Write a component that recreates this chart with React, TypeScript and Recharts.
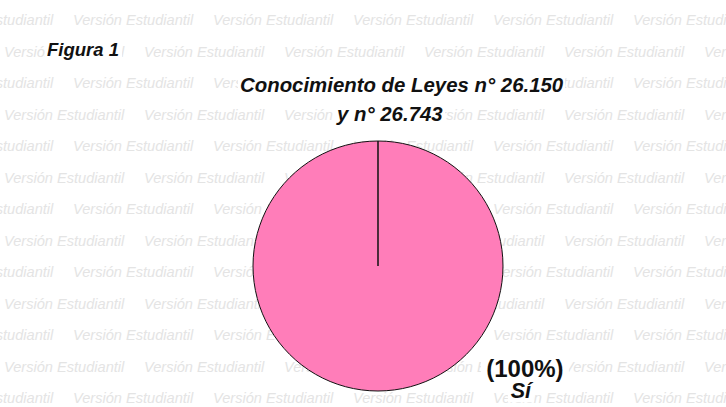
import { PieChart, Pie, Cell } from "recharts";

const WIDTH = 726;
const HEIGHT = 407;

// Data
const categories = ["Sí"];
const values = [100];
const sliceColors = ["#FF7DB9"];

const figureLabel = "Figura 1";
const titleLines = ["Conocimiento de Leyes n° 26.150", "y n° 26.743"];
const watermarkText = "Versión Estudiantil";

const pieData = categories.map((name, i) => ({ name, value: values[i] }));
const total = values.reduce((s, v) => s + v, 0);

const FONT = "'Liberation Sans', Arial, sans-serif";

// Background watermark rows (alternate offsets)
function Watermark() {
  const rows = [];
  for (let r = 0; r < 13; r++) {
    const y = 25 + r * 31.5;
    const x0 = r % 2 === 0 ? -67 : 4;
    for (let c = 0; c < 7; c++) {
      rows.push(
        <text
          key={`${r}-${c}`}
          x={x0 + c * 140}
          y={y}
          fontFamily={FONT}
          fontStyle="italic"
          fontSize={14.6}
          fill="#e4e4e4"
        >
          {watermarkText}
        </text>
      );
    }
  }
  return (
    <svg width={WIDTH} height={HEIGHT} style={{ position: "absolute", left: 0, top: 0 }}>
      {rows}
    </svg>
  );
}

// Text with a white box behind it
function BoxedText({ x, y, w, h, anchor = "start", size, italic, children }: any) {
  const left = anchor === "middle" ? x - w / 2 : x;
  return (
    <g>
      <rect x={left - 2} y={y - h + 2} width={w + 4} height={h + 2} fill="#fff" />
      <text
        x={x}
        y={y}
        textAnchor={anchor}
        fontFamily={FONT}
        fontWeight="bold"
        fontStyle={italic ? "italic" : "normal"}
        fontSize={size}
        fill="#111"
      >
        {children}
      </text>
    </g>
  );
}

const renderLabel = (props: any) => {
  const { cx, cy, outerRadius, name, value } = props;
  const x = cx + outerRadius * 1.175;
  const y = cy + outerRadius * 0.89;
  const pct = Math.round((value / total) * 100);
  return (
    <g>
      <BoxedText x={x} y={y} w={84} h={22} anchor="middle" size={24}>
        {`(${pct}%)`}
      </BoxedText>
      <BoxedText x={x - 4} y={y + 21} w={22} h={18} anchor="middle" size={21.5} italic>
        {name}
      </BoxedText>
    </g>
  );
};

export default function App() {
  return (
    <div style={{ position: "relative", width: WIDTH, height: HEIGHT, background: "#fff" }}>
      <style>{`body{margin:0}`}</style>
      <Watermark />
      <div style={{ position: "absolute", left: 0, top: 0 }}>
        <PieChart width={WIDTH} height={HEIGHT} margin={{ top: 0, right: 0, bottom: 0, left: 0 }}>
          <BoxedText x={47} y={56} w={73} h={16} size={18.5} italic>
            {figureLabel}
          </BoxedText>
          <BoxedText x={240} y={92} w={323} h={18} size={20.4} italic>
            {titleLines[0]}
          </BoxedText>
          <BoxedText x={337} y={121} w={106} h={18} size={20.4} italic>
            {titleLines[1]}
          </BoxedText>
          <Pie
            data={pieData}
            dataKey="value"
            nameKey="name"
            cx={378}
            cy={266}
            outerRadius={125}
            startAngle={90}
            endAngle={-270}
            stroke="#111"
            strokeWidth={1}
            labelLine={false}
            label={renderLabel}
            isAnimationActive={false}
          >
            {pieData.map((d, i) => (
              <Cell key={d.name} fill={sliceColors[i % sliceColors.length]} />
            ))}
          </Pie>
        </PieChart>
      </div>
    </div>
  );
}
